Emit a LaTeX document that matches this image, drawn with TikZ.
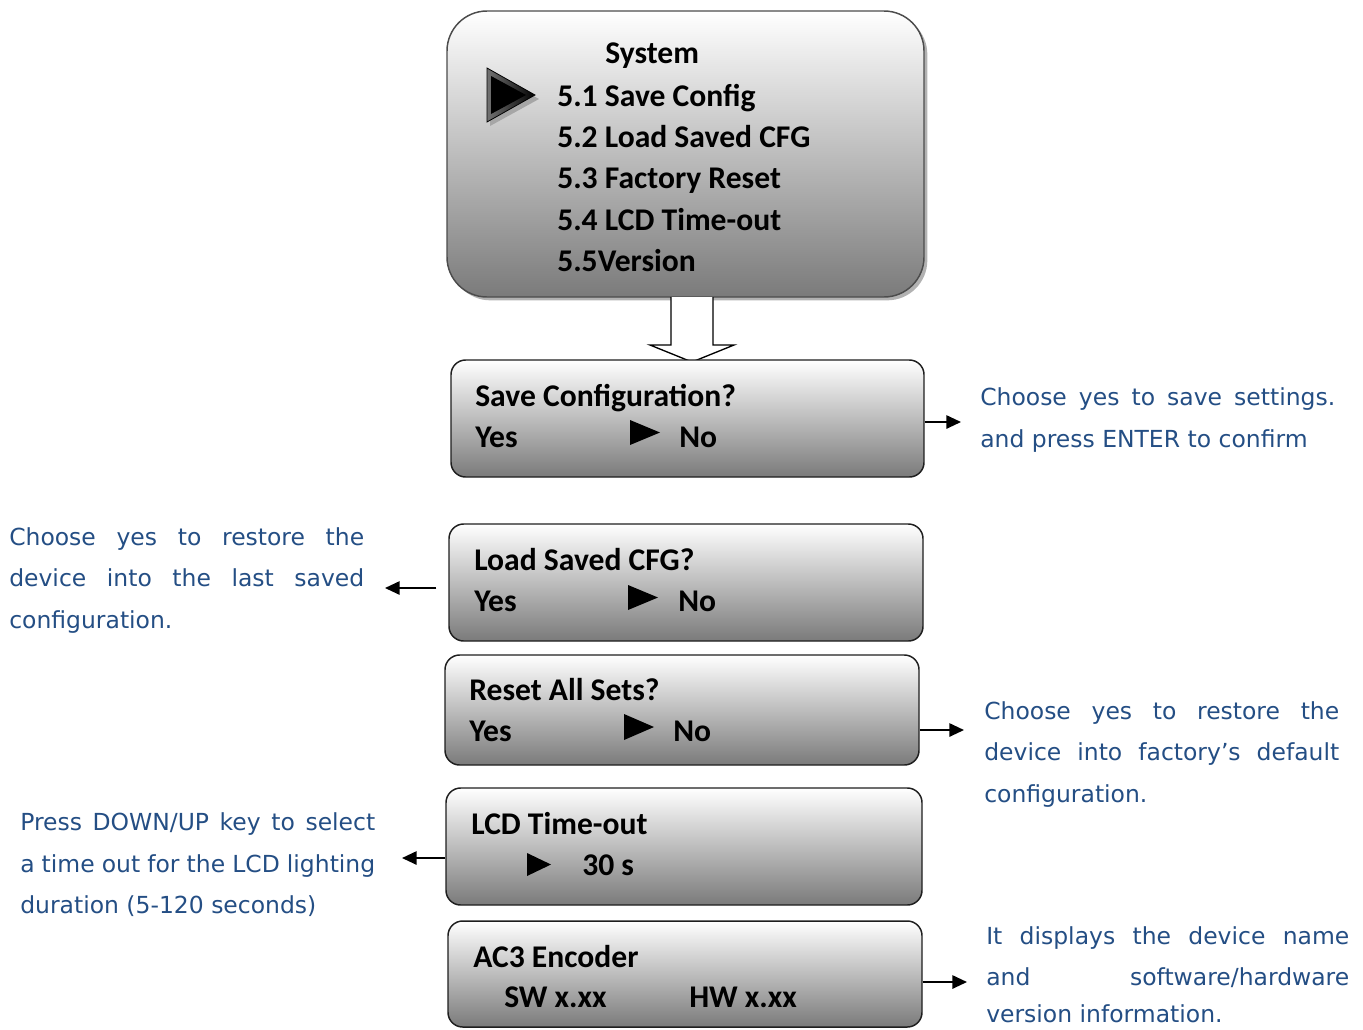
\documentclass[tikz,border=0pt]{standalone}
\usepackage{fontspec}
\setmainfont{Carlito}
\newfontfamily\notefamily{DejaVu Sans}
\usetikzlibrary{arrows.meta,fit,shadows}
\definecolor{noteblue}{RGB}{36,78,132}
\definecolor{lcdedge}{RGB}{30,30,30}
\newcommand{\lcdfont}{\fontsize{23.7pt}{30pt}\selectfont\bfseries}
\newcommand{\notefont}{\fontsize{17.6pt}{30pt}\notefamily}
\newcommand{\jline}[1]{\makebox[266.25pt][s]{#1}}
\newcommand{\jlinew}[1]{\makebox[272.25pt][s]{#1}}
\tikzset{
  lcd/.style={draw=lcdedge, line width=1.1pt, rounded corners=11pt,
    top color=white, bottom color=black!52, inner sep=0pt},
  lbl/.style={anchor=base west, inner sep=0pt, font=\lcdfont},
  note/.style={anchor=base west, inner sep=0pt, font=\notefont, text=noteblue},
  arr/.style={-{Triangle[length=11pt,width=10pt]}, line width=1.4pt},
  cursor/.style={fill=black, draw=none},
}
\begin{document}
\begin{tikzpicture}[x=0.75pt, y=-0.75pt]
\useasboundingbox (0,0) rectangle (1363,1029);
\clip (0,0) rectangle (1363,1029);

% main menu panel
\node[lcd, rounded corners=30pt, draw=black!70,
      drop shadow={shadow xshift=2.5pt, shadow yshift=-2.5pt, fill=black!30, opacity=1},
      fit={(447,11) (924,297)}] (menu) {};
% selection pointer with its shadow
\fill[black!35] (490,72) -- (539,99) -- (490,126) -- cycle;
\shade[left color=black!55, right color=black, draw=black, line width=0.6pt]
  (487,68) -- (535,95) -- (487,122) -- cycle;
\fill[black] (491,76) -- (526,95) -- (491,114) -- cycle;
\node[lbl] (m0) at (605,63) {System};
\node[lbl] (m1) at (557,106) {5.1 Save Config};
\node[lbl] (m2) at (557,147) {5.2 Load Saved CFG};
\node[lbl] (m3) at (557,188) {5.3 Factory Reset};
\node[lbl] (m4) at (557,230) {5.4 LCD Time-out};
\node[lbl] (m5) at (557,271) {5.5Version};

% hollow arrow down to the sub screens
\draw[fill=white, line width=1pt]
  (671,297) -- (671,345) -- (650,345) -- (692,362) -- (734,345) -- (713,345) -- (713,297);

% sub screens
\node[lcd, fit={(451,360) (924,477)}] (save) {};
\node[lbl] at (475,406) {Save Configuration?};
\node[lbl] at (475,447) {Yes};
\fill[cursor] (630,420) -- (660,432.5) -- (630,445) -- cycle;
\node[lbl] at (679,447) {No};

\node[lcd, fit={(449,524) (923,641)}] (load) {};
\node[lbl] at (474,570) {Load Saved CFG?};
\node[lbl] at (474,611) {Yes};
\fill[cursor] (628,585) -- (658,597.5) -- (628,610) -- cycle;
\node[lbl] at (678,611) {No};

\node[lcd, fit={(445,655) (919,765)}] (reset) {};
\node[lbl] at (469,700) {Reset All Sets?};
\node[lbl] at (469,741) {Yes};
\fill[cursor] (624,714) -- (654,727) -- (624,740) -- cycle;
\node[lbl] at (673,741) {No};

\node[lcd, fit={(446,788) (922,905)}] (lcdto) {};
\node[lbl] at (471,834) {LCD Time-out};
\fill[cursor] (527,853) -- (551,864.5) -- (527,876) -- cycle;
\node[lbl] at (582,875) {30 s};

\node[lcd, fit={(448,921) (922,1027)}] (ver) {};
\node[lbl] at (473,967) {AC3 Encoder};
\node[lbl] at (504,1007) {SW x.xx};
\node[lbl] at (689,1007) {HW x.xx};

% explanatory notes
\node[note] (n1a) at (980,405) {\jline{Choose yes to save settings.}};
\node[note] (n1b) at (980,447) {and press ENTER to confirm};

\node[note] (n2a) at (9,545) {\jline{Choose yes to restore the}};
\node[note] (n2b) at (9,586) {\jline{device into the last saved}};
\node[note] (n2c) at (9,628) {configuration.};

\node[note] (n3a) at (984,719) {\jline{Choose yes to restore the}};
\node[note] (n3b) at (984,760) {\jline{device into factory’s default}};
\node[note] (n3c) at (984,802) {configuration.};

\node[note] (n4a) at (20,830) {\jline{Press DOWN/UP key to select}};
\node[note] (n4b) at (20,872) {\jline{a time out for the LCD lighting}};
\node[note] (n4c) at (20,913) {duration (5-120 seconds)};

\node[note] (n5a) at (986,944) {\jlinew{It displays the device name}};
\node[note] (n5b) at (986,985) {\jlinew{and software/hardware}};
\node[note] (n5c) at (986,1022) {version information.};

% connectors from the screens to their notes
\coordinate (t1) at (961,422);
\coordinate (t2) at (385,588);
\coordinate (t3) at (964,730);
\coordinate (t4) at (402,858);
\coordinate (t5) at (967,982);
\draw[arr] (save.east |- t1) -- (t1);
\draw[arr] (load.west |- t2) ++(-12,0) -- (t2);
\draw[arr] (reset.east |- t3) -- (t3);
\draw[arr] (lcdto.west |- t4) -- (t4);
\draw[arr] (ver.east |- t5) -- (t5);
\end{tikzpicture}
\end{document}
